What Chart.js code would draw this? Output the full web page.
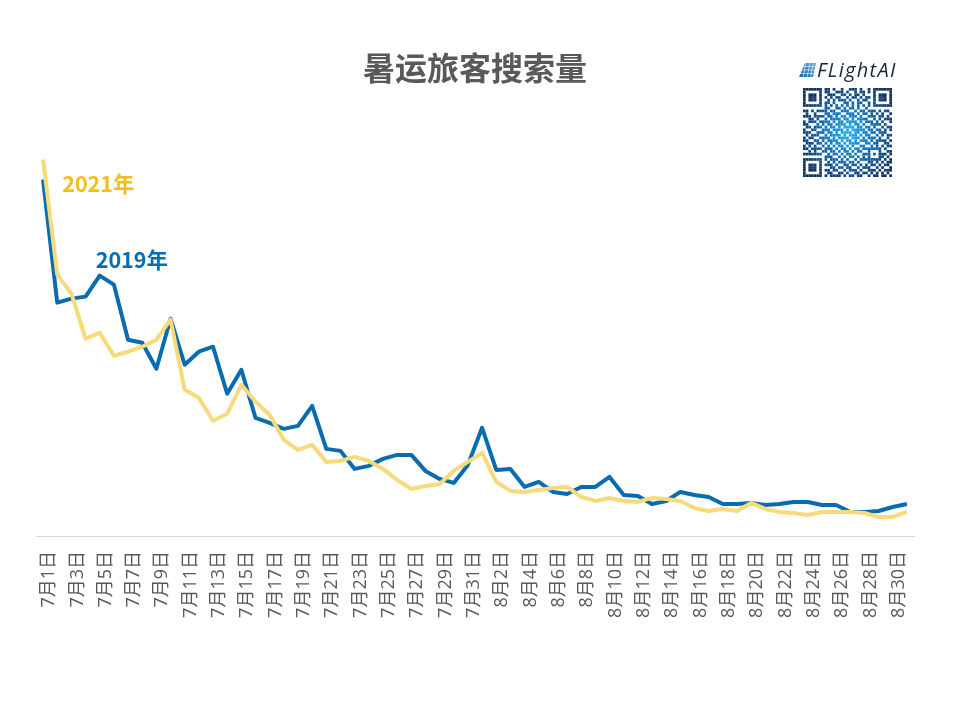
<!DOCTYPE html>
<html lang="zh-CN">
<head>
<meta charset="utf-8">
<title>暑运旅客搜索量</title>
<script src="https://cdn.jsdelivr.net/npm/chart.js@4"></script>
<style>
    html, body { margin: 0; padding: 0; background: #fff; }
    #wrap { position: relative; width: 960px; height: 720px; overflow: hidden; }
    #brand { position: absolute; left: 817px; top: 58px; font: italic 400 20px/24px "Open Sans", sans-serif; color: #16263f; letter-spacing: 1.3px; }
    #logoIcon { position: absolute; left: 798px; top: 62px; }
    #qr { position: absolute; left: 803px; top: 88px; filter: blur(0.35px); }
</style>
</head>
<body>
<div id="wrap">
    <canvas id="chart" width="960" height="720"></canvas>
    <svg id="logoIcon" width="19" height="16" viewBox="0 0 19 16">
        <defs>
            <linearGradient id="lg" x1="0" y1="1" x2="1" y2="0">
                <stop offset="0" stop-color="#1763b0"/>
                <stop offset="1" stop-color="#5aa8e4"/>
            </linearGradient>
        </defs>
        <polygon points="7,1 18,1 15,15 1,15" fill="url(#lg)"/>
        <g stroke="#fff" stroke-width="0.6">
            <line x1="0" y1="4.5" x2="19" y2="4.5"/>
            <line x1="0" y1="8" x2="19" y2="8"/>
            <line x1="0" y1="11.5" x2="19" y2="11.5"/>
            <line x1="8" y1="0" x2="5" y2="16"/>
            <line x1="12" y1="0" x2="9" y2="16"/>
            <line x1="15.5" y1="0" x2="12.5" y2="16"/>
        </g>
    </svg>
    <div id="brand">FLightAI</div>
    <canvas id="qr" width="89" height="89"></canvas>
</div>
<script>
// Categorías: días de julio y agosto
const categories = [
    '7月1日', '7月2日', '7月3日', '7月4日', '7月5日', '7月6日', '7月7日', '7月8日', '7月9日', '7月10日',
    '7月11日', '7月12日', '7月13日', '7月14日', '7月15日', '7月16日', '7月17日', '7月18日', '7月19日', '7月20日',
    '7月21日', '7月22日', '7月23日', '7月24日', '7月25日', '7月26日', '7月27日', '7月28日', '7月29日', '7月30日', '7月31日',
    '8月1日', '8月2日', '8月3日', '8月4日', '8月5日', '8月6日', '8月7日', '8月8日', '8月9日', '8月10日',
    '8月11日', '8月12日', '8月13日', '8月14日', '8月15日', '8月16日', '8月17日', '8月18日', '8月19日', '8月20日',
    '8月21日', '8月22日', '8月23日', '8月24日', '8月25日', '8月26日', '8月27日', '8月28日', '8月29日', '8月30日', '8月31日'
];

// Valores (unidades relativas)
const values2019 = [
    356, 233, 237, 239, 260, 251, 196, 193, 167, 217,
    171, 184, 189, 142, 166, 118, 113, 107, 110, 130,
    87, 85, 67, 70, 77, 81, 81, 65, 57, 53, 71,
    108, 66, 67, 49, 54, 44, 42, 49, 49, 59,
    41, 40, 32, 35, 44, 41, 39, 32, 32, 33,
    31, 32, 34, 34, 31, 31, 24, 24, 25, 29, 32
];
const values2021 = [
    376, 261, 242, 197, 203, 180, 184, 189, 196, 216,
    146, 138, 115, 122, 151, 134, 121, 96, 86, 91,
    74, 75, 79, 75, 67, 56, 47, 50, 52, 65, 74,
    83, 54, 45, 44, 46, 48, 49, 39, 35, 38,
    35, 34, 38, 37, 35, 28, 25, 27, 25, 33,
    27, 24, 23, 21, 24, 24, 24, 23, 19, 19, 24
];

const seriesLabels = ['2019年', '2021年'];
const titleText = '暑运旅客搜索量';

const blue = '#0a6cb0';
const yellow = '#f6da7c';
const yellowText = '#f2be1c';

// Rótulos de cada serie junto a su línea
const seriesLabelPlugin = {
    id: 'seriesLabels',
    afterDatasetsDraw(chart) {
        const x = chart.scales.x;
        const y = chart.scales.y;
        const ctx = chart.ctx;
        ctx.save();
        ctx.font = '700 21.5px "Noto Sans CJK SC", sans-serif';
        ctx.textBaseline = 'middle';
        ctx.textAlign = 'left';
        ctx.fillStyle = blue;
        ctx.fillText(seriesLabels[0], x.getPixelForValue(4) - 4, y.getPixelForValue(276));
        ctx.fillStyle = yellowText;
        ctx.fillText(seriesLabels[1], x.getPixelForValue(1) + 5, y.getPixelForValue(352));
        ctx.restore();
    }
};

new Chart(document.getElementById('chart').getContext('2d'), {
    type: 'line',
    data: {
        labels: categories,
        datasets: [
            { label: seriesLabels[1], data: values2021, borderColor: yellow, borderWidth: 4 },
            { label: seriesLabels[0], data: values2019, borderColor: blue, borderWidth: 4 }
        ]
    },
    options: {
        responsive: false,
        animation: false,
        layout: { padding: { top: 49, left: 36, right: 46, bottom: 60 } },
        elements: { point: { radius: 0 }, line: { tension: 0, borderJoinStyle: 'round' } },
        plugins: {
            legend: { display: false },
            tooltip: { enabled: false },
            title: {
                display: true,
                text: titleText,
                color: '#595959',
                font: { family: '"Noto Sans CJK SC", sans-serif', size: 32, weight: '700' },
                padding: { top: 0, bottom: 48 }
            }
        },
        scales: {
            x: {
                offset: true,
                grid: { display: false, drawTicks: false },
                border: { color: '#d9d9d9', width: 1 },
                afterFit(scale) { scale.height = 124; },
                ticks: {
                    autoSkip: false,
                    minRotation: 90,
                    maxRotation: 90,
                    padding: 15,
                    labelOffset: 6,
                    color: '#595959',
                    font: { family: '"Open Sans", "Noto Sans CJK SC", sans-serif', size: 18, weight: '400' },
                    callback(value, index) { return index % 2 === 0 ? this.getLabelForValue(value) : ''; }
                }
            },
            y: { display: false, min: 0, max: 400 }
        }
    },
    plugins: [seriesLabelPlugin]
});

// Código QR del logotipo (imagen decorativa)
const qrRows = [
    '111111101101001001110100101111111',
    '100000101100111010010110101000001',
    '101110100111001101011010001011101',
    '101110101010110010110101101011101',
    '101110100101011101001011001011101',
    '100000101101000110101100101000001',
    '111111101010101010101010101111111',
    '000000001100110101101001000000000',
    '110101111011001110010110111010110',
    '010010001101110011101011010101001',
    '111011110110101101110100111011010',
    '001101001011110110101111001010111',
    '101110111101011011110101110101001',
    '110001010110111101011010011110100',
    '011011101011010111101101101001011',
    '100110011101111010111110110110101',
    '111001110110101111011011011011100',
    '010111001011110101110101100101011',
    '101100111101011110111010111010010',
    '110011010111101011010111010111101',
    '011101101010110101111001101100110',
    '101010010101011010100110010101011',
    '110111101110101101011011111110100',
    '001010011011010110101100100010011',
    '111111100101101011010011101011101',
    '000000001110010101101010100011010',
    '111111101011101010010111111110101',
    '100000100101011101101000110101011',
    '101110101110100110110101011010110',
    '101110100011011011001011100101001',
    '101110101101100101110100111010111',
    '100000100110011010011011010101010',
    '111111101011110101101100101101101'
];

const qrCtx = document.getElementById('qr').getContext('2d');
const qrGrad = qrCtx.createRadialGradient(45, 45, 4, 45, 45, 52);
qrGrad.addColorStop(0, '#1fa8ea');
qrGrad.addColorStop(0.4, '#1273bd');
qrGrad.addColorStop(1, '#10305f');
qrCtx.fillStyle = qrGrad;
const cell = 89 / qrRows.length;
qrRows.forEach((row, r) => {
    [...row].forEach((bit, c) => {
        if (bit === '1') qrCtx.fillRect(c * cell, r * cell, cell, cell);
    });
});
</script>
</body>
</html>
